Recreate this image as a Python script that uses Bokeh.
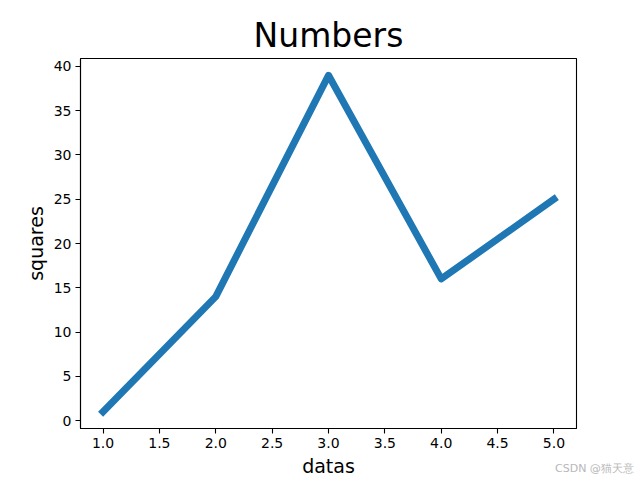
from bokeh.plotting import figure
from bokeh.models import FixedTicker, PrintfTickFormatter, Range1d, Div
from bokeh.layouts import column
from bokeh.embed import file_html
from bokeh.resources import INLINE

datas = [1, 2, 3, 4, 5]
squares = [1, 14, 39, 16, 25]
x_ticks = [1.0, 1.5, 2.0, 2.5, 3.0, 3.5, 4.0, 4.5, 5.0]
y_ticks = [0, 5, 10, 15, 20, 25, 30, 35, 40]
title_text = "Numbers"
x_label = "datas"
y_label = "squares"
watermark = "CSDN @猫天意"

FONT = "DejaVu Sans"

p = figure(width=640, height=480, output_backend="svg", toolbar_location=None,
           x_range=Range1d(0.8, 5.2), y_range=Range1d(-0.9, 40.9),
           min_border_left=80, min_border_right=64, min_border_top=58, min_border_bottom=52)
p.background_fill_color = "white"
p.border_fill_color = "white"
p.outline_line_color = "black"
p.outline_line_width = 1.1

p.title.text = title_text
p.title.text_font = FONT
p.title.text_font_size = "33px"
p.title.text_font_style = "normal"
p.title.text_color = "black"
p.title.align = "center"
p.title.standoff = 7

p.line(datas, squares, line_width=7, line_color="#1f77b4",
       line_join="round", line_cap="square")

for ax in (p.xaxis, p.yaxis):
    ax.axis_line_color = "black"
    ax.axis_line_width = 1.1
    ax.major_tick_line_color = "black"
    ax.major_tick_line_width = 1.1
    ax.major_tick_out = 5
    ax.major_tick_in = 0
    ax.minor_tick_line_color = None
    ax.major_label_text_font = FONT
    ax.major_label_text_font_size = "14px"
    ax.major_label_text_color = "black"
    ax.major_label_standoff = 4
    ax.axis_label_text_font = FONT
    ax.axis_label_text_font_size = "19px"
    ax.axis_label_text_font_style = "normal"
    ax.axis_label_text_color = "black"
    ax.axis_label_standoff = 4

p.xaxis.ticker = FixedTicker(ticks=x_ticks)
p.yaxis.ticker = FixedTicker(ticks=y_ticks)
p.xaxis.formatter = PrintfTickFormatter(format="%.1f")
p.yaxis.formatter = PrintfTickFormatter(format="%d")
p.xaxis.axis_label = x_label
p.yaxis.axis_label = y_label
p.xgrid.visible = False
p.ygrid.visible = False

wm = Div(text=watermark, width=84, height=14, margin=(-18, 0, 0, 555),
         styles={"font-family": FONT, "font-size": "11px", "color": "#b8b8b8",
                 "white-space": "nowrap", "line-height": "14px"})

layout = column(p, wm, spacing=0)

open("out.html", "w").write(file_html(layout, INLINE))
